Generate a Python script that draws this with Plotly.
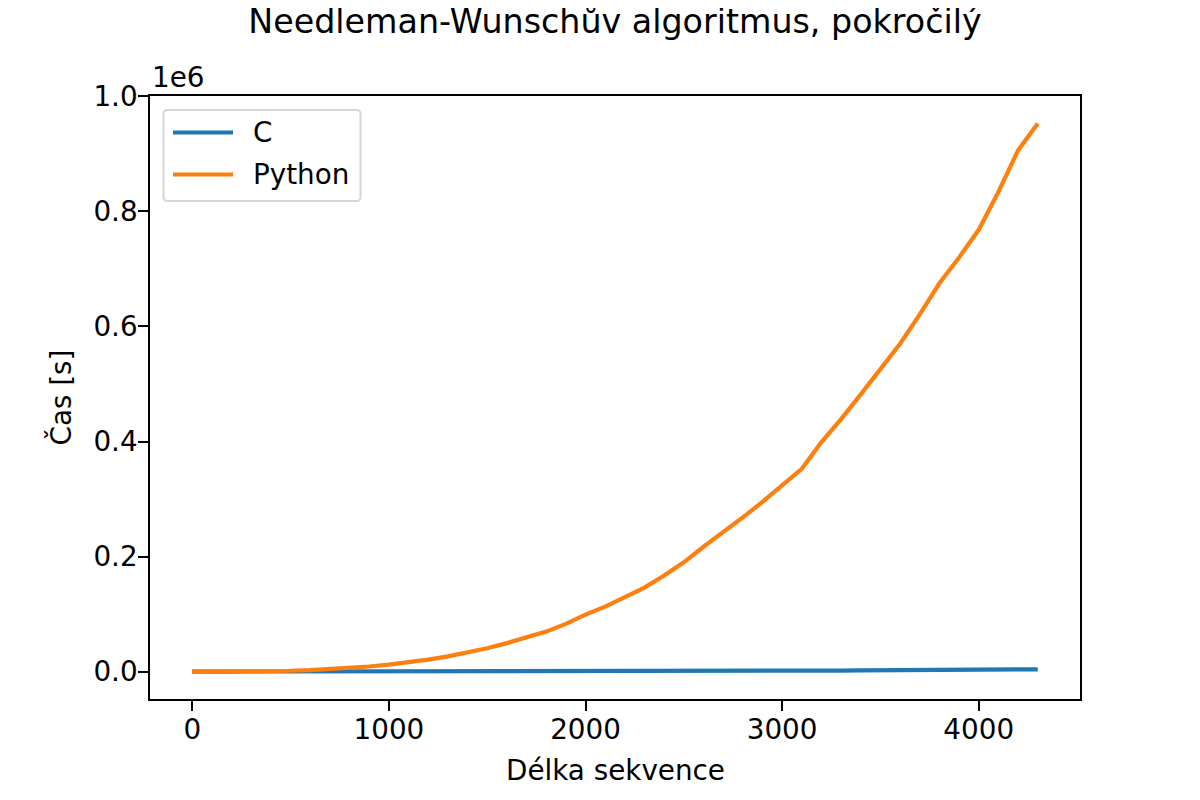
import plotly.graph_objects as go

# Sequence lengths (x axis)
delka = list(range(0, 4301, 100))

# Time values (raw units, axis shows x1e6)
cas_c = [0, 0, 0, 1, 3, 6, 11, 17, 26, 37,
         50, 67, 87, 110, 138, 170, 206, 247, 293, 345,
         402, 466, 536, 612, 695, 786, 884, 990, 1104, 1227,
         1358, 1498, 1648, 1807, 1977, 2156, 2346, 2548, 2760, 2984,
         3219, 3466, 3727, 3999]

cas_python = [0, 10, 100, 300, 800, 1500, 2600, 4100, 6200, 8800,
              12100, 16000, 20800, 26400, 32900, 40500, 49500, 59000, 69500, 83000,
              99000, 113000, 129000, 146000, 167000, 190000, 217000, 242000, 268000, 295000,
              324000, 352500, 399000, 439000, 482000, 527000, 570000, 621000, 675000, 720000,
              768000, 834000, 906000, 953000]

series_names = ["C", "Python"]
series_colors = ["#1f77b4", "#ff7f0e"]

y_ticks = [0, 200000, 400000, 600000, 800000, 1000000]
y_tick_labels = ["0.0", "0.2", "0.4", "0.6", "0.8", "1.0"]
x_ticks = [0, 1000, 2000, 3000, 4000]

FONT = "DejaVu Sans"
FS = 27.8

# plot area in screenshot pixels (page has an 8px body margin)
PX0, PX1, PY0, PY1 = 150, 1080, 96, 699


def px(x):
    return (x - PX0) / (PX1 - PX0)


def py(y):
    return (PY1 - y) / (PY1 - PY0)


fig = go.Figure()
for name, color, vals in zip(series_names, series_colors, [cas_c, cas_python]):
    fig.add_trace(go.Scatter(x=delka, y=vals, mode="lines", name=name,
                             line=dict(color=color, width=4.2)))

axis_style = dict(showline=True, linecolor="black", linewidth=1.6, mirror=True,
                  ticks="outside", ticklen=10, tickwidth=1.6, tickcolor="black",
                  showgrid=False, zeroline=False, ticklabelstandoff=-5,
                  tickfont=dict(family=FONT, size=FS, color="black"))

fig.update_xaxes(range=[-215, 4515], tickvals=x_ticks, **axis_style)
fig.update_yaxes(range=[-47650, 1000650], tickvals=y_ticks, ticktext=y_tick_labels, **axis_style)

text_font = dict(family=FONT, size=FS, color="black")

# axis titles and offset text
fig.add_annotation(text="Délka sekvence", xref="paper", yref="paper", x=0.5, y=py(771),
                   xanchor="center", yanchor="middle", showarrow=False, font=text_font)
fig.add_annotation(text="Čas [s]", xref="paper", yref="paper", x=px(60), y=0.5, textangle=-90,
                   xanchor="center", yanchor="middle", showarrow=False, font=text_font)
fig.add_annotation(text="1e6", xref="paper", yref="paper", x=px(150), y=py(78),
                   xanchor="left", yanchor="middle", showarrow=False, font=text_font)

# legend box drawn like matplotlib's (rounded frame)
lx0, lx1, ly0, ly1, r = 163.5, 360.5, 110, 201, 4
legend_path = (f"M {px(lx0 + r)} {py(ly0)} L {px(lx1 - r)} {py(ly0)} "
               f"Q {px(lx1)} {py(ly0)} {px(lx1)} {py(ly0 + r)} "
               f"L {px(lx1)} {py(ly1 - r)} Q {px(lx1)} {py(ly1)} {px(lx1 - r)} {py(ly1)} "
               f"L {px(lx0 + r)} {py(ly1)} Q {px(lx0)} {py(ly1)} {px(lx0)} {py(ly1 - r)} "
               f"L {px(lx0)} {py(ly0 + r)} Q {px(lx0)} {py(ly0)} {px(lx0 + r)} {py(ly0)} Z")
fig.add_shape(type="path", path=legend_path, xref="paper", yref="paper",
              fillcolor="rgba(255,255,255,0.8)", line=dict(color="#d6d6d6", width=2))
for i, (name, color) in enumerate(zip(series_names, series_colors)):
    yy = 132.5 + i * 42
    fig.add_shape(type="line", xref="paper", yref="paper",
                  x0=px(173), x1=px(233), y0=py(yy), y1=py(yy),
                  line=dict(color=color, width=4.2))
    fig.add_annotation(text=name, xref="paper", yref="paper", x=px(251), y=py(yy),
                       xanchor="left", yanchor="middle", showarrow=False, font=text_font)

fig.update_layout(
    width=1200, height=800,
    margin=dict(l=PX0 - 8, r=1200 - PX1 + 8, t=PY0 - 8, b=800 - PY1 + 8),
    paper_bgcolor="white", plot_bgcolor="white",
    title=dict(text="Needleman-Wunschův algoritmus, pokročilý", xref="paper", x=0.5, xanchor="center",
               yref="container", y=1 - 13 / 800, yanchor="middle",
               font=dict(family=FONT, size=33.3, color="black")),
    showlegend=False,
)

fig.write_html("out.html")
